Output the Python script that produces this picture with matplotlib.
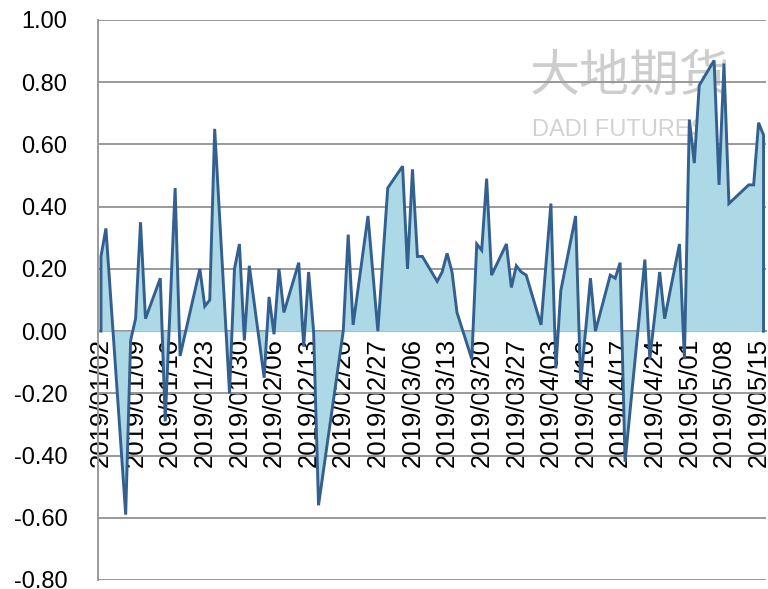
import matplotlib
matplotlib.use("Agg")
import matplotlib.pyplot as plt
import matplotlib.dates as mdates
import pandas as pd
import numpy as np

dates = [
    "2019-01-02", "2019-01-03", "2019-01-07", "2019-01-08", "2019-01-09", "2019-01-10",
    "2019-01-11", "2019-01-14", "2019-01-15", "2019-01-17", "2019-01-18", "2019-01-22",
    "2019-01-23", "2019-01-24", "2019-01-25", "2019-01-28", "2019-01-29", "2019-01-30",
    "2019-01-31", "2019-02-01", "2019-02-04", "2019-02-05", "2019-02-06", "2019-02-07",
    "2019-02-08", "2019-02-11", "2019-02-12", "2019-02-13", "2019-02-14", "2019-02-15",
    "2019-02-20", "2019-02-21", "2019-02-22", "2019-02-25", "2019-02-27", "2019-03-01",
    "2019-03-04", "2019-03-05", "2019-03-06", "2019-03-07", "2019-03-08", "2019-03-11",
    "2019-03-12", "2019-03-13", "2019-03-14", "2019-03-15", "2019-03-18", "2019-03-19",
    "2019-03-20", "2019-03-21", "2019-03-22", "2019-03-25", "2019-03-26", "2019-03-27",
    "2019-03-28", "2019-03-29", "2019-04-01", "2019-04-03", "2019-04-04", "2019-04-05",
    "2019-04-08", "2019-04-09", "2019-04-11", "2019-04-12", "2019-04-15", "2019-04-16",
    "2019-04-17", "2019-04-18", "2019-04-22", "2019-04-23", "2019-04-25", "2019-04-26",
    "2019-04-29", "2019-04-30", "2019-05-01", "2019-05-02", "2019-05-03", "2019-05-06",
    "2019-05-07", "2019-05-08", "2019-05-09", "2019-05-13", "2019-05-14", "2019-05-15",
    "2019-05-16",
]
values = [
    0.24, 0.33, -0.59, -0.03, 0.04, 0.35,
    0.04, 0.17, -0.29, 0.46, -0.08, 0.20,
    0.08, 0.10, 0.65, -0.20, 0.20, 0.28,
    -0.03, 0.21, -0.15, 0.11, -0.01, 0.20,
    0.06, 0.22, -0.05, 0.19, 0.00, -0.56,
    0.00, 0.31, 0.02, 0.37, 0.00, 0.46,
    0.53, 0.20, 0.52, 0.24, 0.24, 0.16,
    0.19, 0.25, 0.19, 0.06, -0.09, 0.28,
    0.26, 0.49, 0.18, 0.28, 0.14, 0.21,
    0.19, 0.18, 0.02, 0.41, -0.12, 0.13,
    0.37, -0.17, 0.17, 0.00, 0.18, 0.17,
    0.22, -0.42, 0.23, -0.09, 0.19, 0.04,
    0.28, -0.09, 0.68, 0.54, 0.79, 0.87,
    0.47, 0.86, 0.41, 0.47, 0.47, 0.67,
    0.63,
]
tick_labels_start = "2019-01-02"
tick_labels_end = "2019-05-15"
y_ticks = [-0.8, -0.6, -0.4, -0.2, 0.0, 0.2, 0.4, 0.6, 0.8, 1.0]

FONT = "Liberation Sans"
plt.rcParams["font.family"] = [FONT, "DejaVu Sans"]

x = mdates.date2num(pd.to_datetime(dates).to_pydatetime())
y = np.array(values)

fig = plt.figure(figsize=(7.68, 5.89), dpi=100)

# watermark (behind the chart)
fig.text(530 / 768, 1 - 77 / 589, "大地期货", fontsize=36, color="#cdcdcd",
         family=["Noto Sans CJK SC", "DejaVu Sans"], va="center", ha="left", zorder=-5)
fig.text(532 / 768, 1 - 130 / 589, "DADI FUTURES", fontsize=17, color="#d2d2d2",
         va="center", ha="left", zorder=-5)

ax = fig.add_axes([98 / 768, 1 - 580 / 589, (766 - 98) / 768, (580 - 20) / 589])
ax.patch.set_visible(False)

line_col = "#34608F"
fill_col = "#ADD8E6"
grid_col = "#999999"

ax.fill_between(x, y, 0, color=fill_col, linewidth=0, zorder=2)
xl = np.concatenate([[x[0]], x, [x[-1]]])
yl = np.concatenate([[0.0], y, [0.0]])
ax.plot(xl, yl, color=line_col, linewidth=2.1, zorder=3, solid_joinstyle="miter")

ax.spines["bottom"].set_position(("data", 0))
ax.spines["bottom"].set_color(grid_col)
ax.spines["bottom"].set_linewidth(1.4)
ax.spines["bottom"].set_zorder(1)
ax.spines["top"].set_visible(False)
ax.spines["right"].set_visible(False)
ax.spines["left"].set_color(grid_col)
ax.spines["left"].set_linewidth(1.4)

ax.set_ylim(-0.8, 1.0)
ax.set_xlim(x[0] - 0.6, x[-1] + 0.5)
ax.set_yticks(y_ticks)
ax.set_yticklabels([f"{v:.2f}" for v in y_ticks])
ax.yaxis.grid(True, color=grid_col, linewidth=1.4, zorder=1)
ax.set_axisbelow(True)

tick_dates = pd.date_range(tick_labels_start, tick_labels_end, freq="7D")
tx = mdates.date2num(tick_dates.to_pydatetime())
ax.set_xticks(tx)
ax.set_xticklabels([d.strftime("%Y/%m/%d") for d in tick_dates], rotation=90,
                   fontsize=18.5, va="top", ha="center")
ax.tick_params(axis="x", length=0, pad=5)
ax.tick_params(axis="y", length=0, pad=22, labelsize=17)
for lab in ax.get_xticklabels():
    lab.set_zorder(4)

fig.savefig("out.png", dpi=100)
